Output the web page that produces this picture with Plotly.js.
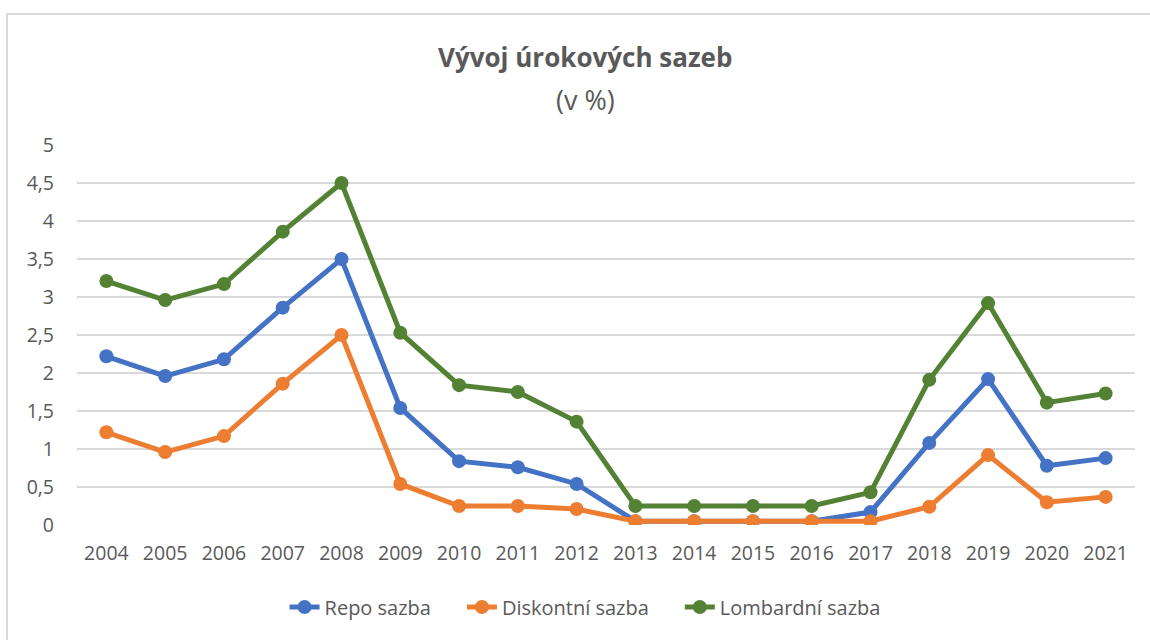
<!DOCTYPE html>
<html>
<head>
<meta charset="utf-8">
<script src="https://cdn.plot.ly/plotly-3.0.1.min.js"></script>
<style>
  html, body { margin: 0; padding: 0; background: #fff; }
  #frame { position: absolute; left: 6px; top: 13px; width: 1170px; height: 670px; border: 2px solid #d9d9d9; box-sizing: border-box; z-index: 10; pointer-events: none; }
  #chart { position: absolute; left: 0; top: 0; width: 1150px; height: 640px; z-index: 1; }
</style>
</head>
<body>
<div id="chart"></div>
<div id="frame"></div>
<script>
const years = ['2004','2005','2006','2007','2008','2009','2010','2011','2012','2013','2014','2015','2016','2017','2018','2019','2020','2021'];
const repo = [2.22, 1.96, 2.18, 2.86, 3.5, 1.54, 0.84, 0.76, 0.54, 0.05, 0.05, 0.05, 0.05, 0.17, 1.08, 1.92, 0.78, 0.88];
const diskont = [1.22, 0.96, 1.17, 1.86, 2.5, 0.54, 0.25, 0.25, 0.21, 0.05, 0.05, 0.05, 0.05, 0.05, 0.24, 0.92, 0.3, 0.37];
const lombard = [3.21, 2.96, 3.17, 3.86, 4.5, 2.53, 1.84, 1.75, 1.36, 0.25, 0.25, 0.25, 0.25, 0.43, 1.91, 2.92, 1.61, 1.73];
const seriesNames = ['Repo sazba', 'Diskontní sazba', 'Lombardní sazba'];
const yTickVals = [0, 0.5, 1, 1.5, 2, 2.5, 3, 3.5, 4, 4.5, 5];
const yTickText = ['0', '0,5', '1', '1,5', '2', '2,5', '3', '3,5', '4', '4,5', '5'];
const titleText = 'Vývoj úrokových sazeb';
const subtitleText = '(v %)';

const font = "'Open Sans', 'Noto Sans', sans-serif";
const pad = '\u00a0\u00a0\u00a0\u00a0\u00a0';
function tr(name, y, color, last) {
  return {
    x: years, y: y, name: last ? name : name + pad, type: 'scatter', mode: 'lines+markers',
    line: { color: color, width: 5 },
    marker: { color: color, size: 14 }
  };
}
const data = [
  tr(seriesNames[0], repo, '#4472C4', false),
  tr(seriesNames[1], diskont, '#ED7D31', false),
  tr(seriesNames[2], lombard, '#548235', true)
];
const layout = {
  width: 1150, height: 640,
  paper_bgcolor: 'rgba(0,0,0,0)', plot_bgcolor: 'rgba(0,0,0,0)',
  margin: { l: 77, r: 15, t: 145, b: 115 },
  font: { family: font, color: '#595959', size: 20 },
  annotations: [
    { text: '<b>' + titleText + '</b>', xref: 'paper', yref: 'paper', x: 0.4802, y: 1 + (145 - 57) / 380,
      xanchor: 'center', yanchor: 'middle', showarrow: false, font: { size: 26, color: '#595959', family: font } },
    { text: subtitleText, xref: 'paper', yref: 'paper', x: 0.4802, y: 1 + (145 - 99) / 380,
      xanchor: 'center', yanchor: 'middle', showarrow: false, font: { size: 27, color: '#595959', family: font } }
  ],
  xaxis: {
    type: 'category', range: [-0.5, 17.5], showgrid: false, zeroline: false,
    showline: false, ticks: '', ticklabelstandoff: 14, tickfont: { size: 19.5, color: '#595959' }, fixedrange: true
  },
  yaxis: {
    range: [0, 5], tickvals: yTickVals, ticktext: yTickText,
    showgrid: true, gridcolor: '#d9d9d9', gridwidth: 1.5, zeroline: false, showline: false,
    ticks: '', ticklabelstandoff: 22, tickfont: { size: 19.5, color: '#595959' }, fixedrange: true
  },
  showlegend: true,
  legend: {
    orientation: 'h', x: 0.4802, xanchor: 'center', y: -(607 - 525) / 380, yanchor: 'middle',
    font: { size: 20, color: '#595959' }, traceorder: 'normal'
  }
};
Plotly.newPlot('chart', data, layout, { displayModeBar: false, staticPlot: true });
</script>
</body>
</html>
